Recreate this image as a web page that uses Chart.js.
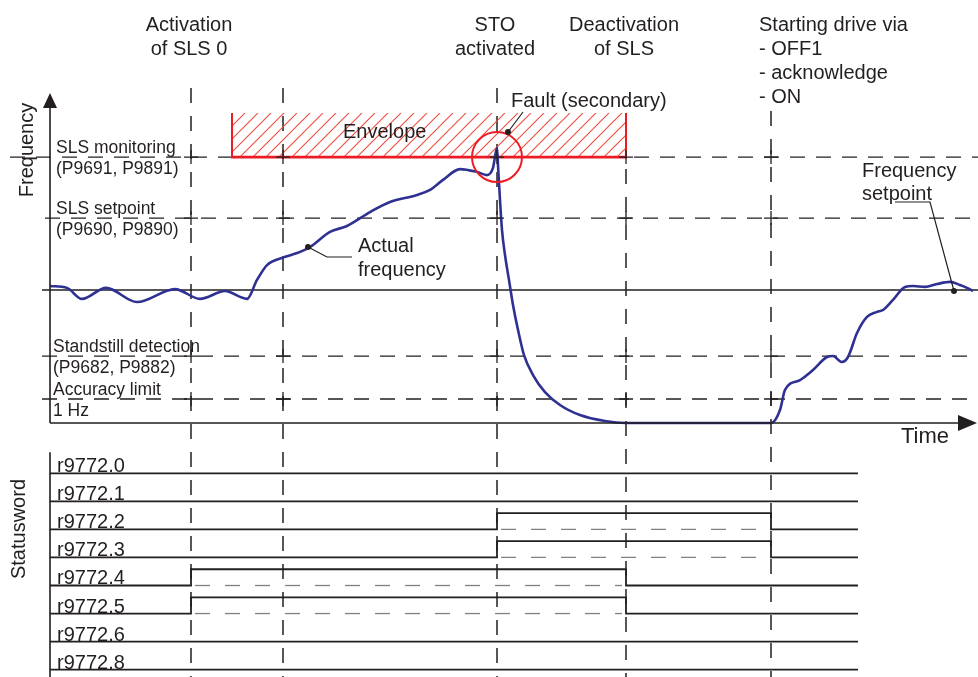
<!DOCTYPE html>
<html>
<head>
<meta charset="utf-8">
<script src="https://cdn.jsdelivr.net/npm/chart.js@4.4.1/dist/chart.umd.min.js"></script>
<style>
  html, body { margin: 0; padding: 0; background: #fff; }
  #chart { display: block; }
</style>
</head>
<body>
<canvas id="chart" width="978" height="677"></canvas>
<script>
// time in arbitrary units (0 = frequency axis), frequency in Hz
const curveTime = [0, 17, 32, 56, 87, 125, 150, 175, 197, 207,
  217, 232, 247, 260, 280, 297, 320, 340, 367, 380,
  393, 410, 427, 437, 443, 447, 448, 450, 452, 455,
  459, 463, 468, 474, 483, 495, 510, 530, 555, 576,
  721, 730, 735, 750, 763, 777, 783, 792, 798, 807,
  817, 827, 833, 843, 855, 863, 875, 887, 900, 910, 917, 923];
const curveFreq = [5.71, 5.63, 5.17, 5.63, 5.04, 5.58, 5.17, 5.5, 5.17, 5.96,
  6.58, 6.88, 7.08, 7.33, 7.96, 8.21, 8.79, 9.21, 9.5, 9.71,
  10.13, 10.58, 10.46, 10.33, 10.63, 11.46, 10.75, 9.29, 8.04, 7.0,
  5.96, 4.92, 3.88, 2.83, 2.0, 1.29, 0.75, 0.33, 0.08, 0,
  0, 0.54, 1.38, 1.79, 2.21, 2.75, 2.79, 2.54, 2.75, 3.75,
  4.42, 4.63, 4.71, 5.13, 5.67, 5.71, 5.67, 5.79, 5.88, 5.75, 5.63, 5.5];

const eventTimes = [141, 233, 447, 576, 721];
const eventLabels = [
  ["Activation", "of SLS 0"],
  [],
  ["STO", "activated"],
  ["Deactivation", "of SLS"],
  ["Starting drive via", "- OFF1", "- acknowledge", "- ON"],
];

const levelValues = [11.08, 8.54, 5.54, 2.79, 1.0];
const levelLabels = [
  ["SLS monitoring", "(P9691, P9891)"],
  ["SLS setpoint", "(P9690, P9890)"],
  [],
  ["Standstill detection", "(P9682, P9882)"],
  ["Accuracy limit", "1 Hz"],
];

const envelopeFrom = 182;
const envelopeTo = 576;
const envelopeTop = 12.92;

const statusBits = ["r9772.0", "r9772.1", "r9772.2", "r9772.3", "r9772.4", "r9772.5", "r9772.6", "r9772.8"];
const statusHighFrom = [null, null, 447, 447, 141, 141, null, null];
const statusHighTo = [null, null, 721, 721, 576, 576, null, null];
const statusEnd = 808;
const statusHigh = 0.58;

const INK = "#231f20";
const RED = "#ed1c24";
const FONT = "'Liberation Sans', Arial, sans-serif";

const datasets = [];

datasets.push({
  label: "Actual frequency",
  data: curveTime.map((t, i) => ({ x: t, y: curveFreq[i] })),
  borderColor: "#2e3192",
  borderWidth: 2.6,
  pointRadius: 0,
  cubicInterpolationMode: "monotone",
  yAxisID: "y",
});

const levelStart = [-40, -5, -8, -8, -8];
levelValues.forEach((v, i) => {
  datasets.push({
    label: "level " + i,
    data: [{ x: levelStart[i], y: v }, { x: 928, y: v }],
    borderColor: INK,
    borderWidth: i === 2 ? 1.6 : 1.3,
    borderDash: i === 2 ? [] : [15, 11],
    pointRadius: 0,
    yAxisID: "y",
  });
});

// where each event line starts at the top (Hz), so it stays clear of the labels
const eventTop = [13.96, 13.96, 13.96, 12.92, 13.0];
eventTimes.forEach((t, i) => {
  datasets.push({
    label: "event " + i,
    data: [{ x: t, y: eventTop[i] }, { x: t, y: -10.6 }],
    borderColor: INK,
    borderWidth: 1.5,
    borderDash: [15, 13],
    pointRadius: 0,
    yAxisID: "y",
  });
});

statusBits.forEach((bit, i) => {
  const b = -i;
  const h = -i + statusHigh;
  let pts = [{ x: 0, y: b }];
  if (statusHighFrom[i] !== null) {
    pts.push({ x: statusHighFrom[i], y: b }, { x: statusHighFrom[i], y: h },
      { x: statusHighTo[i], y: h }, { x: statusHighTo[i], y: b });
    datasets.push({
      label: bit + " ref",
      data: [{ x: statusHighFrom[i] + 4, y: b }, { x: statusHighTo[i] - 4, y: b }],
      borderColor: "#808080",
      borderWidth: 1.3,
      borderDash: [15, 15],
      pointRadius: 0,
      yAxisID: "ys",
    });
  }
  pts.push({ x: statusEnd, y: b });
  datasets.push({
    label: bit,
    data: pts,
    borderColor: INK,
    borderWidth: 1.8,
    pointRadius: 0,
    yAxisID: "ys",
  });
});

function arrow(ctx, x, y, dir) {
  ctx.beginPath();
  if (dir === "up") {
    ctx.moveTo(x, y);
    ctx.lineTo(x - 7, y + 15);
    ctx.lineTo(x + 7, y + 15);
  } else {
    ctx.moveTo(x, y);
    ctx.lineTo(x - 19, y - 8);
    ctx.lineTo(x - 19, y + 8);
  }
  ctx.closePath();
  ctx.fill();
}

function dot(ctx, x, y) {
  ctx.beginPath();
  ctx.arc(x, y, 3, 0, Math.PI * 2);
  ctx.fill();
}

const diagram = {
  id: "diagram",
  beforeDatasetDraw(chart, args) {
    if (args.index !== 0) return;
    const { ctx } = chart;
    const sx = chart.scales.x, sy = chart.scales.y;
    const x0 = sx.getPixelForValue(envelopeFrom), x1 = sx.getPixelForValue(envelopeTo);
    const y0 = sy.getPixelForValue(envelopeTop), y1 = sy.getPixelForValue(levelValues[0]);
    ctx.save();
    ctx.beginPath();
    ctx.rect(x0, y0, x1 - x0, y1 - y0);
    ctx.clip();
    ctx.strokeStyle = "#ef4a3c";
    ctx.lineWidth = 1.1;
    const hgt = y1 - y0;
    for (let k = x0 - hgt; k < x1 + hgt; k += 13) {
      ctx.beginPath();
      ctx.moveTo(k, y1);
      ctx.lineTo(k + hgt, y0);
      ctx.stroke();
    }
    ctx.restore();
    ctx.save();
    ctx.strokeStyle = RED;
    ctx.lineWidth = 2;
    ctx.beginPath();
    ctx.moveTo(x0, y0);
    ctx.lineTo(x0, y1);
    ctx.moveTo(x1, y0);
    ctx.lineTo(x1, y1);
    ctx.stroke();
    ctx.lineWidth = 2.8;
    ctx.beginPath();
    ctx.moveTo(x0 - 1, y1);
    ctx.lineTo(x1 + 1, y1);
    ctx.stroke();
    ctx.restore();
  },
  afterDatasetsDraw(chart) {
    const { ctx } = chart;
    const sx = chart.scales.x, sy = chart.scales.y, ss = chart.scales.ys;
    const ox = sx.getPixelForValue(0), oy = sy.getPixelForValue(0);
    ctx.save();
    ctx.strokeStyle = INK;
    ctx.fillStyle = INK;

    // axes
    ctx.lineWidth = 1.6;
    ctx.beginPath();
    ctx.moveTo(ox, oy);
    ctx.lineTo(ox, 106);
    ctx.moveTo(ox, oy);
    ctx.lineTo(960, oy);
    ctx.moveTo(ox, ss.getPixelForValue(0.75));
    ctx.lineTo(ox, 677);
    ctx.stroke();
    arrow(ctx, ox, 93, "up");
    arrow(ctx, 977, oy, "right");

    // small crosses where event lines meet the dashed levels
    ctx.lineWidth = 1.3;
    eventTimes.forEach(t => {
      const px = sx.getPixelForValue(t);
      [0, 1, 3, 4].forEach(j => {
        const py = sy.getPixelForValue(levelValues[j]);
        ctx.beginPath();
        ctx.moveTo(px - 7, py);
        ctx.lineTo(px + 7, py);
        ctx.moveTo(px, py - 7);
        ctx.lineTo(px, py + 7);
        ctx.stroke();
      });
    });

    // fault circle
    ctx.strokeStyle = RED;
    ctx.lineWidth = 2;
    ctx.beginPath();
    ctx.arc(sx.getPixelForValue(eventTimes[2]), sy.getPixelForValue(levelValues[0]), 25, 0, Math.PI * 2);
    ctx.stroke();

    // leaders
    ctx.strokeStyle = INK;
    ctx.lineWidth = 1.2;
    ctx.beginPath();
    ctx.moveTo(508, 132); ctx.lineTo(523, 112);
    ctx.moveTo(308, 247); ctx.lineTo(327, 257); ctx.lineTo(352, 257);
    ctx.moveTo(895, 202); ctx.lineTo(930, 202); ctx.lineTo(954, 291);
    ctx.stroke();
    dot(ctx, 508, 132);
    dot(ctx, 308, 247);
    dot(ctx, 954, 291);

    // texts
    ctx.font = "20px " + FONT;
    ctx.textBaseline = "alphabetic";
    eventLabels.forEach((lines, i) => {
      const px = sx.getPixelForValue(eventTimes[i]);
      lines.forEach((s, k) => {
        if (i === 4) {
          ctx.textAlign = "left";
          ctx.fillText(s, px - 12, 31 + k * 24);
        } else {
          ctx.textAlign = "center";
          ctx.fillText(s, px - 2, 31 + k * 24);
        }
      });
    });
    ctx.textAlign = "left";
    ctx.fillText("Fault (secondary)", 511, 107);
    ctx.fillText("Envelope", 343, 138);
    ctx.fillText("Actual", 358, 252);
    ctx.fillText("frequency", 358, 276);
    ctx.fillText("Frequency", 862, 177);
    ctx.fillText("setpoint", 862, 200);
    ctx.font = "22px " + FONT;
    ctx.fillText("Time", 901, 443);

    ctx.font = "17.5px " + FONT;
    levelLabels.forEach((lines, i) => {
      const py = sy.getPixelForValue(levelValues[i]);
      const lx = i < 2 ? 56 : 53;
      lines.forEach((s, k) => {
        ctx.fillText(s, lx, k === 0 ? py - 4 : py + 17);
      });
    });

    ctx.font = "20px " + FONT;
    statusBits.forEach((bit, i) => {
      ctx.fillText(bit, 57, ss.getPixelForValue(-i) - 1);
    });

    ctx.save();
    ctx.translate(33, 150);
    ctx.rotate(-Math.PI / 2);
    ctx.textAlign = "center";
    ctx.fillText("Frequency", 0, 0);
    ctx.restore();
    ctx.save();
    ctx.translate(25, 529);
    ctx.rotate(-Math.PI / 2);
    ctx.textAlign = "center";
    ctx.fillText("Statusword", 0, 0);
    ctx.restore();

    ctx.restore();
  },
};

new Chart(document.getElementById("chart"), {
  type: "line",
  data: { datasets: datasets },
  options: {
    responsive: false,
    animation: false,
    devicePixelRatio: 1,
    layout: { padding: 0 },
    clip: false,
    scales: {
      x: { type: "linear", min: -50, max: 928, bounds: "data", display: false },
      y: { type: "linear", min: -10.583, max: 17.625, bounds: "data", display: false },
      ys: { type: "linear", min: -7.262, max: 16.873, bounds: "data", display: false },
    },
    plugins: {
      legend: { display: false },
      tooltip: { enabled: false },
    },
  },
  plugins: [diagram],
});
</script>
</body>
</html>
